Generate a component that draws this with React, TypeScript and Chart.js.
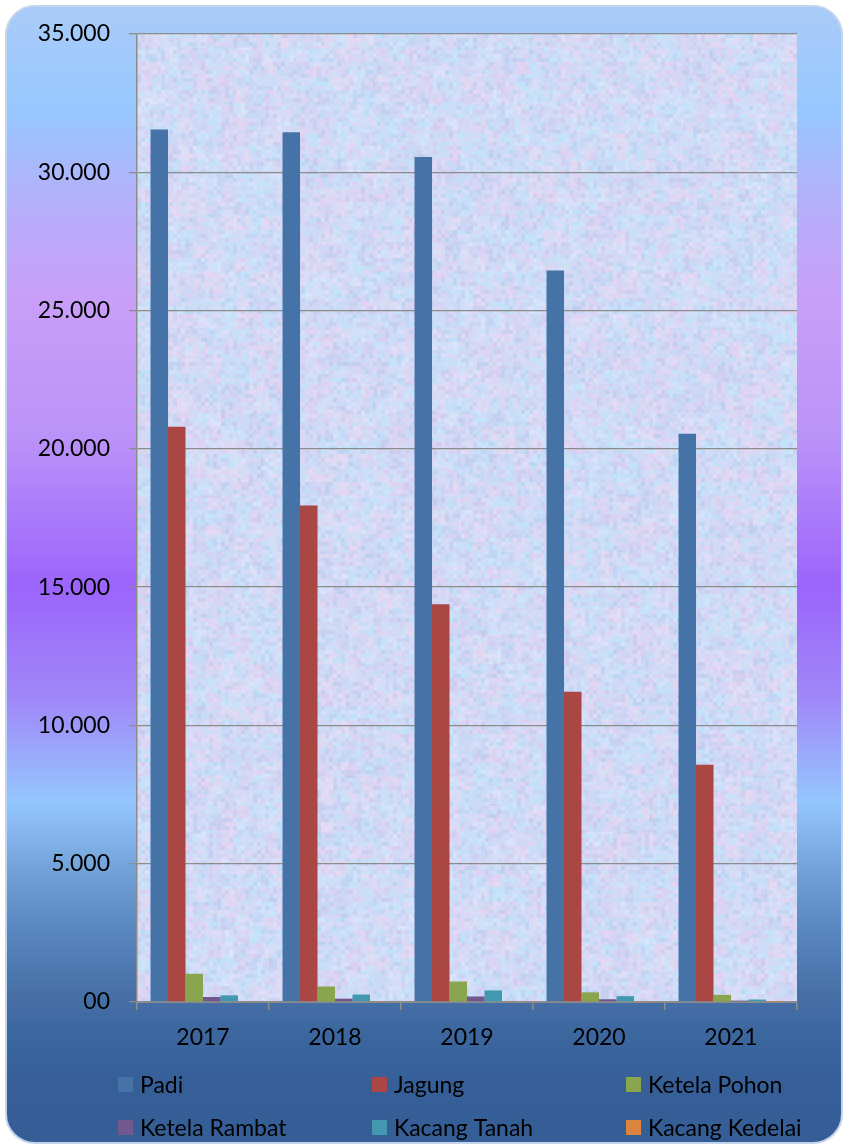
import React, { useEffect, useRef } from "react";
import { Chart, registerables } from "chart.js";

Chart.register(...registerables);

const years = ["2017", "2018", "2019", "2020", "2021"];
const padi = [31550, 31450, 30550, 26450, 20550];
const jagung = [20800, 17950, 14380, 11220, 8580];
const ketelaPohon = [1020, 560, 740, 350, 260];
const ketelaRambat = [180, 120, 200, 100, 50];
const kacangTanah = [240, 270, 420, 210, 90];
const kacangKedelai = [20, 15, 15, 10, 8];

const seriesNames = ["Padi", "Jagung", "Ketela Pohon", "Ketela Rambat", "Kacang Tanah", "Kacang Kedelai"];
const seriesColors = ["#4572A7", "#AA4643", "#89A54E", "#71588F", "#4198AF", "#DB843D"];
const seriesValues = [padi, jagung, ketelaPohon, ketelaRambat, kacangTanah, kacangKedelai];

const yMax = 35000;
const yStep = 5000;

const FONT = "Lato, 'Open Sans', sans-serif";

function formatTick(v: number): string {
  if (v === 0) return "00";
  return v.toLocaleString("de-DE");
}

function hash(x: number, y: number): number {
  const s = Math.sin(x * 12.9898 + y * 78.233) * 43758.5453;
  return s - Math.floor(s);
}

const plotBackground = {
  id: "plotBackground",
  beforeDraw(chart: any) {
    const { ctx, chartArea } = chart;
    const { left, top, width, height } = chartArea;
    ctx.save();
    ctx.fillStyle = "#cfdaf5";
    ctx.fillRect(left, top, width, height);
    const coarse = ["#c0e4fb", "#e6cdf2", "#d0d4f6", "#eed8f2", "#bde8fb", "#c6ccf2", "#dce8fb"];
    const big = 14;
    ctx.globalAlpha = 0.5;
    for (let yy = 0; yy < height; yy += big) {
      for (let xx = 0; xx < width; xx += big) {
        const h = hash(xx * 0.13 + 3.1, yy * 0.29 + 7.7);
        ctx.fillStyle = coarse[Math.floor(h * coarse.length)];
        ctx.fillRect(left + xx, top + yy, Math.min(big, width - xx), Math.min(big, height - yy));
      }
    }
    const palette = ["#c2e2fa", "#e2d0f3", "#d4d6f6", "#ead6f1", "#bfe6fa", "#c9cdf2", "#dde6fa", "#b8c8ee"];
    const cell = 4;
    ctx.globalAlpha = 0.45;
    for (let yy = 0; yy < height; yy += cell) {
      for (let xx = 0; xx < width; xx += cell) {
        const h = hash(xx * 0.37, yy * 0.51);
        ctx.fillStyle = palette[Math.floor(h * palette.length)];
        ctx.fillRect(left + xx, top + yy, Math.min(cell, width - xx), Math.min(cell, height - yy));
      }
    }
    ctx.globalAlpha = 1;
    ctx.restore();
  },
};

const gridLegend = {
  id: "gridLegend",
  afterDraw(chart: any) {
    const ctx = chart.ctx;
    ctx.save();
    ctx.font = `23px ${FONT}`;
    ctx.textBaseline = "middle";
    ctx.textAlign = "left";
    chart.data.datasets.forEach((ds: any, i: number) => {
      const col = i % 3;
      const row = Math.floor(i / 3);
      const x = 118 + col * 254;
      const y = 1084.5 + row * 43;
      ctx.fillStyle = ds.backgroundColor;
      ctx.fillRect(x, y - 7.5, 15, 15);
      ctx.fillStyle = "#000000";
      ctx.fillText(ds.label, x + 22, y + 1);
    });
    ctx.restore();
  },
};

export default function App() {
  const ref = useRef<HTMLCanvasElement | null>(null);

  useEffect(() => {
    if (!ref.current) return;
    const chart = new Chart(ref.current, {
      type: "bar",
      data: {
        labels: years,
        datasets: seriesNames.map((name, i) => ({
          label: name,
          data: seriesValues[i],
          backgroundColor: seriesColors[i],
          borderWidth: 0,
          categoryPercentage: 0.795,
          barPercentage: 1.0,
        })),
      },
      options: {
        animation: false,
        responsive: false,
        maintainAspectRatio: false,
        layout: { padding: { left: 0, right: 47, top: 34, bottom: 98 } },
        plugins: {
          legend: { display: false },
          tooltip: { enabled: false },
        },
        scales: {
          x: {
            grid: {
              display: true,
              drawOnChartArea: false,
              drawTicks: true,
              tickLength: 8,
              color: "#8c8c8c",
              lineWidth: 1.5,
              offset: true,
            },
            border: { display: true, color: "#8c8c8c", width: 2 },
            ticks: {
              color: "#000000",
              font: { family: FONT, size: 23 },
              padding: 14,
              maxRotation: 0,
            },
            afterFit(scale: any) {
              scale.height = 46;
            },
          },
          y: {
            min: 0,
            max: yMax,
            grid: {
              color: "#8c8c8c",
              lineWidth: 1.3,
              tickLength: 8,
              drawTicks: true,
            },
            border: { display: true, color: "#8c8c8c", width: 1.5 },
            ticks: {
              stepSize: yStep,
              color: "#000000",
              font: { family: FONT, size: 23 },
              padding: 19,
              callback: (v: any) => formatTick(Number(v)),
            },
            afterFit(scale: any) {
              scale.width = 137;
            },
          },
        },
      },
      plugins: [plotBackground, gridLegend],
    });
    return () => chart.destroy();
  }, []);

  return (
    <div style={{ position: "absolute", left: 0, top: 0, width: 844, height: 1146, background: "#ffffff", overflow: "hidden" }}>
      <div
        style={{
          position: "absolute",
          left: 5,
          top: 5,
          width: 838,
          height: 1139,
          boxSizing: "border-box",
          borderRadius: 30,
          border: "2px solid #c4d4ec",
          background:
            "linear-gradient(to bottom, #aacbf8 0%, #96c8fe 9%, #b4b0fa 17%, #c99ef8 26%, #bb92f8 38%, #9c64fc 51%, #a088f8 61%, #94c6fe 70%, #72a2d8 76%, #5a88c0 81%, #4670a6 87%, #3d679f 90%, #365f98 95%, #355e96 100%)",
        }}
      />
      <canvas ref={ref} width={844} height={1146} style={{ position: "absolute", left: 0, top: 0, width: 844, height: 1146 }} />
    </div>
  );
}
